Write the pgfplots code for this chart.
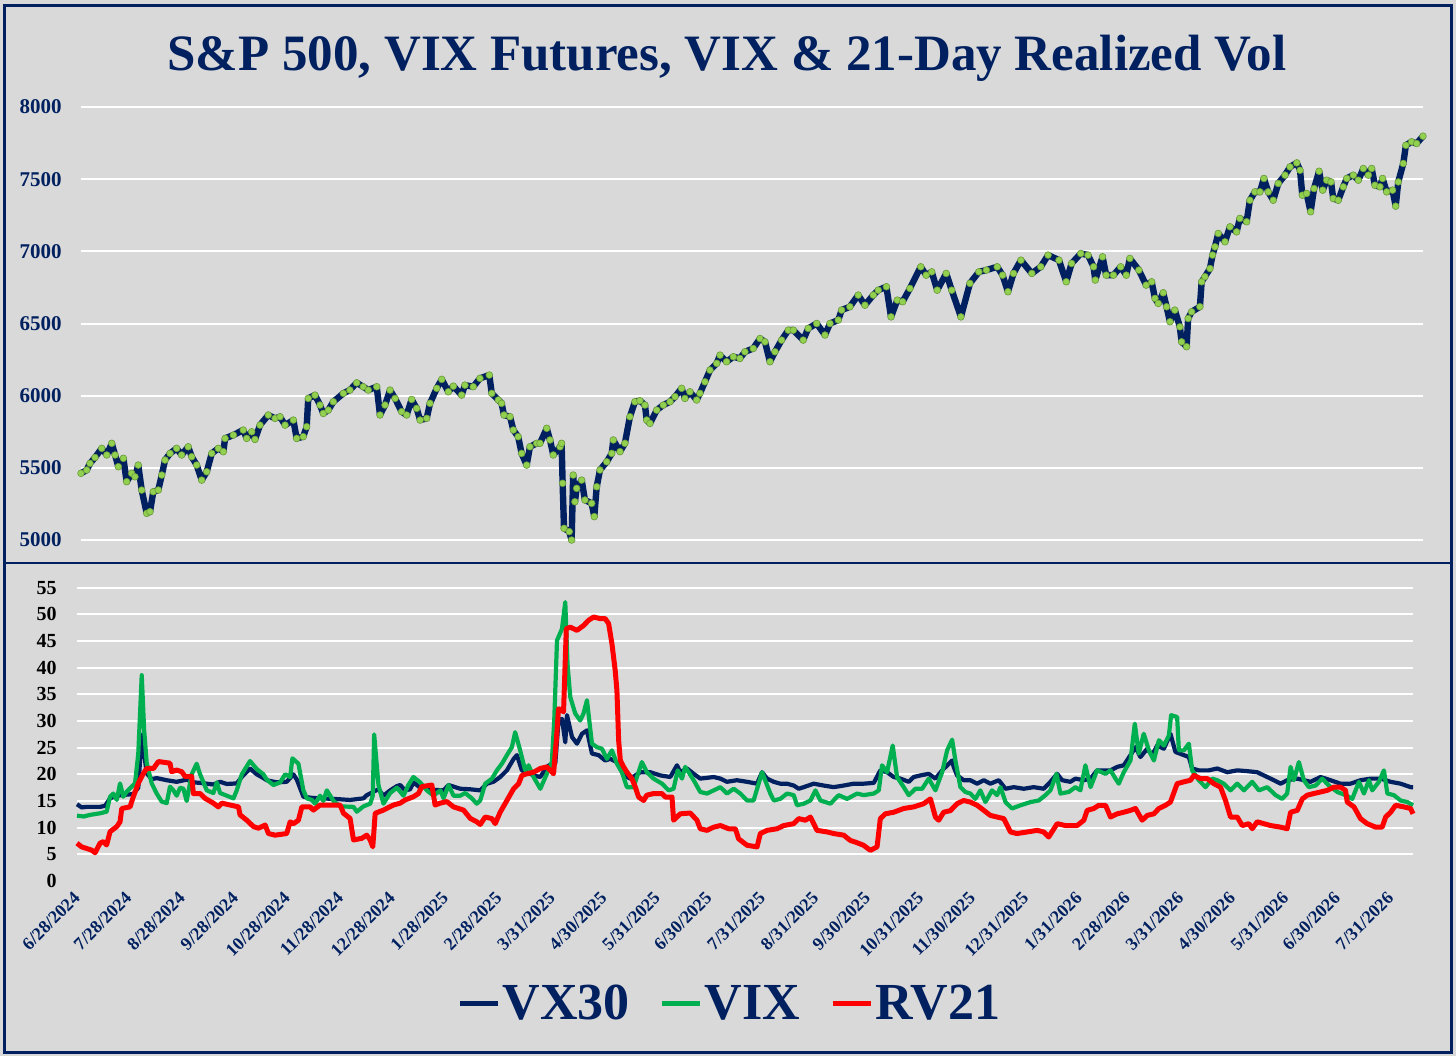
\documentclass[border=0pt]{standalone}
\usepackage{fontspec}
\setmainfont{Liberation Serif}
\usepackage{pgfplots}
\pgfplotsset{compat=1.18}
\definecolor{navy}{HTML}{002060}
\definecolor{vixgreen}{HTML}{00B050}
\definecolor{spgreen}{HTML}{92D050}
\definecolor{rvred}{HTML}{FF0000}
\definecolor{bg}{HTML}{D9D9D9}
\begin{document}
\begin{tikzpicture}
\useasboundingbox (0,0) rectangle (728pt,-528pt);
\fill[bg] (0,0) rectangle (728pt,-528pt);
\draw[navy, line width=1.5pt] (2.25pt,-2.5pt) rectangle (725.5pt,-526pt);
\draw[navy, line width=1pt] (2.25pt,-281.5pt) -- (725.5pt,-281.5pt);
\node[anchor=base, font=\bfseries\fontsize{25.5}{30}\selectfont, text=navy] at (363.5pt,-35pt) {S\&P 500, VIX Futures, VIX \& 21-Day Realized Vol};

\begin{axis}[at={(40.5pt,-270pt)}, anchor=south west, scale only axis,
  width=671pt, height=216.5pt, xmin=0, xmax=776, ymin=5000, ymax=8000,
  ytick={5000,5500,...,8000}, xtick=\empty, ymajorgrids,
  grid style={white, line width=1pt}, axis line style={draw=none},
  tick style={draw=none},
  yticklabel style={font=\bfseries\fontsize{10.5}{12}\selectfont, text=navy, inner sep=0pt, xshift=-9.5pt},
  /pgf/number format/assume math mode=true, /pgf/number format/1000 sep={}, clip=false]
\addplot[navy, line width=3.2pt, line join=round, mark=*, mark size=1.7pt, mark options={fill=spgreen, draw=spgreen!75!black, line width=0.3pt}] coordinates {
(0,5462) (3.3,5485) (5.2,5531) (8.1,5572) (12.0,5635) (14.9,5589) (17.8,5670) (19.7,5589) (21.6,5508) (24.5,5566)
(26.4,5404) (29.3,5462) (31.2,5438) (33.1,5519) (35.1,5346) (38.0,5185) (39.9,5196) (41.8,5335) (44.7,5346) (46.7,5450)
(48.6,5554) (51.5,5600) (55.3,5635) (58.2,5589) (62.0,5646) (64.0,5577) (66.9,5519) (69.8,5415) (72.7,5473) (75.6,5600)
(79.4,5635) (82.3,5612) (83.3,5704) (88.1,5727) (93.8,5762) (95.8,5704) (98.7,5750) (100.6,5697) (103.5,5796) (108.3,5866)
(112.2,5843) (115.1,5854) (118.0,5796) (122.8,5831) (124.7,5704) (128.5,5716) (130.5,5785) (131.4,5981) (135.3,6004) (138.2,5935)
(140.1,5877) (143.0,5900) (145.9,5958) (151.7,6016) (155.5,6039) (159.4,6089) (163.2,6062) (166.1,6039) (171.0,6062) (172.9,5866)
(175.8,5935) (178.7,6039) (181.6,5981) (185.4,5889) (188.3,5866) (191.2,5974) (194.1,5912) (196.1,5831) (199.9,5843) (201.8,5947)
(205.7,6051) (208.6,6113) (212.4,6027) (215.3,6066) (220.1,6004) (222.0,6073) (226.8,6062) (230.7,6120) (236.1,6143) (237.5,6016)
(241.3,5970) (243.2,5947) (244.6,5866) (248.1,5854) (250.0,5762) (252.8,5716) (254.8,5600) (257.7,5519) (259.6,5646) (263.5,5670)
(265.4,5670) (269.3,5774) (271.2,5693) (273.1,5589) (277.0,5646) (277.9,5670) (278.5,5393) (279.3,5081) (282.3,5058) (283.7,5000)
(284.6,5450) (285.6,5265) (286.6,5358) (289.5,5415) (291.4,5277) (295.3,5254) (296.8,5162) (298.2,5369) (300.1,5485) (304.0,5542)
(306.9,5600) (307.8,5693) (311.7,5612) (314.5,5670) (317.4,5854) (320.3,5958) (323.2,5965) (326.1,5935) (327.1,5831) (329.0,5808)
(332.9,5900) (336.7,5935) (340.6,5958) (343.5,5993) (347.3,6051) (349.2,5981) (352.1,6027) (356.0,5970) (357.9,6016) (360.8,6096)
(363.7,6177) (367.6,6224) (369.5,6281) (373.3,6235) (377.2,6270) (381.0,6258) (383.9,6304) (388.7,6327) (392.6,6396) (395.5,6373)
(398.4,6235) (401.3,6304) (405.1,6385) (409.0,6454) (411.9,6454) (417.6,6385) (420.5,6466) (425.4,6500) (430.2,6420) (433.1,6500)
(437.9,6524) (439.8,6593) (444.6,6616) (449.4,6697) (453.3,6627) (458.1,6697) (461.0,6731) (465.7,6755) (468.4,6546) (472.0,6662)
(475.1,6651) (479.3,6743) (485.6,6893) (488.7,6835) (491.9,6858) (495.1,6731) (500.3,6847) (503.5,6731) (508.8,6546) (514.0,6778)
(519.2,6858) (523.5,6870) (529.8,6893) (532.9,6835) (536.0,6720) (539.2,6847) (543.5,6939) (549.8,6847) (555.0,6893) (559.2,6974)
(565.5,6939) (569.7,6789) (572.8,6916) (578.1,6985) (582.3,6974) (585.5,6893) (586.5,6801) (590.7,6962) (592.8,6835) (597.0,6835)
(601.2,6893) (604.4,6835) (606.5,6951) (611.7,6870) (615.9,6766) (619.1,6789) (621.0,6674) (622.9,6639) (625.8,6713) (627.7,6616)
(629.7,6512) (632.5,6593) (635.4,6477) (636.4,6373) (639.3,6339) (640.2,6535) (642.2,6581) (647.0,6616) (648.0,6789) (649.9,6824)
(652.8,6881) (654.3,6974) (655.7,7031) (657.6,7124) (661.5,7066) (664.4,7170) (668.2,7135) (670.1,7228) (674.0,7205) (675.9,7354)
(678.8,7412) (681.7,7412) (684.0,7505) (686.5,7412) (689.4,7354) (692.3,7470) (696.2,7528) (699.1,7585) (703.0,7613) (704.9,7562)
(706.2,7389) (708.7,7401) (711.0,7274) (713.0,7435) (715.9,7555) (718.0,7424) (720.3,7493) (722.8,7481) (724.1,7366) (727.0,7354)
(729.9,7447) (731.9,7505) (735.7,7528) (738.6,7493) (741.5,7574) (744.4,7528) (746.3,7574) (748.2,7458) (751.1,7447) (752.6,7505)
(755.0,7412) (758.4,7424) (760.2,7313) (761.7,7481) (764.6,7609) (766.1,7735) (769.4,7759) (772.3,7747) (776,7798)
};
\end{axis}

\begin{axis}[at={(38.5pt,-440.5pt)}, anchor=south west, scale only axis,
  width=668pt, height=146.67pt, xmin=0, xmax=776, ymin=0, ymax=55,
  ytick={5,10,...,55}, extra y ticks={0}, extra y tick style={grid=none},
  xtick={0,30,61,92,122,153,183,214,245,276,306,337,367,398,429,459,490,520,551,582,610,641,671,702,732,763},
  xticklabels={6/28/2024,7/28/2024,8/28/2024,9/28/2024,10/28/2024,11/28/2024,12/28/2024,1/28/2025,2/28/2025,3/31/2025,4/30/2025,5/31/2025,6/30/2025,7/31/2025,8/31/2025,9/30/2025,10/31/2025,11/30/2025,12/31/2025,1/31/2026,2/28/2026,3/31/2026,4/30/2026,5/31/2026,6/30/2026,7/31/2026},
  ymajorgrids, grid style={white, line width=1pt}, axis line style={draw=none},
  tick style={draw=none},
  yticklabel style={font=\bfseries\fontsize{10}{12}\selectfont, text=black, inner sep=0pt, xshift=-10pt},
  xticklabel style={font=\bfseries\fontsize{9}{10}\selectfont, text=navy, inner sep=0pt, yshift=-7pt, rotate=45, anchor=east},
  /pgf/number format/assume math mode=true, clip=false,
  every axis plot/.append style={line join=round},
  legend columns=3,
  legend style={at={(0.4888,-0.419)}, anchor=center, draw=none, fill=none,
    font=\bfseries\fontsize{26}{30}\selectfont, text=navy, nodes={inner sep=1pt},
    /tikz/every even column/.append style={column sep=14pt}},
  legend image code/.code={\draw[#1, line width=2.5pt] (0pt,0pt) -- (19pt,0pt);}]
\addplot[navy, line width=2.1pt] coordinates {
(0,14.4) (2.7,13.8) (5.6,13.9) (13.4,13.9) (16.3,14.1) (19.2,15.5) (23.1,16.0) (28.9,16.2) (32.7,16.3) (35.6,17.5)
(37.6,27.4) (40.5,20.2) (43.4,19.1) (46.3,19.3) (52.1,18.9) (57.9,18.6) (63.7,19.0) (67.6,18.5) (71.5,18.4) (79.2,18.1)
(83.1,18.6) (87.0,18.2) (92.8,18.3) (95.7,19.5) (100.5,21.1) (104.4,20.0) (108.3,19.3) (110.2,18.9) (116.0,18.5) (121.8,18.6)
(125.7,20.0) (127.7,19.0) (131.5,15.8) (136.4,15.6) (141.2,15.5) (149.0,15.4) (158.6,15.2) (166.4,15.5) (168.3,16.1) (172.6,16.8)
(175.1,17.2) (178.0,16.0) (181.9,17.0) (185.8,17.8) (187.7,18.0) (190.6,17.0) (193.5,17.2) (195.4,18.5) (199.3,17.5) (201.3,17.8)
(207.1,17.1) (212.9,17.0) (215.8,18.0) (222.6,17.3) (228.4,17.2) (234.2,17.0) (238.1,18.25) (241.9,18.6) (245.8,19.5) (249.7,20.75)
(253.6,22.9) (255.5,23.6) (258.4,20.75) (261.3,20.4) (265.2,19.8) (269.1,19.5) (272.9,21.4) (275.8,22.0) (277.8,22.0) (279.7,30.1)
(281.7,30.4) (283.6,26.0) (284.6,31.1) (287.5,27.0) (290.4,25.75) (293.3,27.6) (296.2,28.25) (299.1,23.9) (303.0,23.6) (306.8,22.6)
(309.7,22.9) (313.6,22.3) (317.5,19.8) (321.4,19.2) (327.2,20.4) (333.0,20.4) (338.8,19.8) (344.6,19.5) (348.5,21.7) (350.4,20.4)
(354.3,21.1) (358.2,20.1) (362.0,19.2) (369.8,19.5) (373.7,19.2) (377.5,18.6) (383.3,18.9) (389.2,18.6) (395.0,18.25) (397.9,20.4)
(400.8,19.2) (404.7,18.6) (408.5,18.25) (412.4,18.25) (416.3,17.9) (419.2,17.3) (422.1,17.6) (427.9,18.25) (433.7,17.9) (439.5,17.6)
(445.3,17.9) (451.1,18.25) (456.9,18.25) (462.8,18.4) (466.6,20.75) (470.5,20.4) (474.4,19.5) (478.3,19.2) (483.1,18.6) (486.0,19.5)
(489.9,19.8) (494.7,20.1) (498.6,19.2) (502.5,20.75) (508.3,22.6) (509.2,21.4) (511.2,19.8) (515.0,18.9) (518.9,18.9) (522.8,18.25)
(526.7,18.9) (530.5,18.25) (535.4,18.9) (539.3,17.3) (544.1,17.6) (549.9,17.3) (555.7,17.6) (561.5,17.3) (565.4,18.6) (569.3,20.1)
(572.2,18.9) (577.0,18.6) (579.9,19.2) (584.8,18.9) (588.7,19.2) (592.5,20.75) (596.4,20.75) (600.3,20.75) (604.2,21.4) (608.0,21.7)
(611.9,23.6) (614.8,25.1) (617.7,23.25) (621.6,24.8) (624.5,23.6) (627.4,25.4) (631.3,24.8) (635.1,27.6) (638.0,24.2) (642.9,23.6)
(645.8,23.25) (647.7,21.1) (651.6,20.75) (657.4,20.75) (662.3,21.1) (668.1,20.4) (673.9,20.75) (679.7,20.6) (685.5,20.4) (691.3,19.5)
(695.2,18.9) (699.1,18.25) (702.9,18.9) (708.8,19.2) (712.6,18.9) (716.5,18.6) (722.3,19.5) (728.1,18.9) (733.9,18.25) (739.7,18.25)
(745.5,18.9) (751.4,19.2) (757.2,19.2) (763.0,18.6) (768.8,18.25) (774.6,17.6) (776,17.6)
};
\addlegendentry{VX30}
\addplot[vixgreen, line width=2.1pt] coordinates {
(0,12.25) (3.9,12.1) (7.6,12.4) (13.4,12.7) (17.2,13.0) (19.2,15.8) (21.1,16.4) (23.1,15.2) (25.0,18.3) (26.9,15.8)
(28.9,16.75) (31.8,17.7) (33.7,18.3) (35.6,23.9) (37.6,38.6) (39.0,28.3) (40.5,22.1) (43.4,18.3) (46.3,16.4) (49.2,14.9)
(52.1,14.6) (54.0,17.7) (56.0,17.0) (57.9,16.0) (59.9,17.5) (61.8,17.3) (63.7,15.0) (66.6,20.0) (69.5,22.0) (71.5,20.0)
(75.4,17.0) (79.2,16.5) (81.2,18.5) (83.1,16.5) (87.0,16.0) (90.9,15.5) (92.8,17.0) (95.7,20.0) (100.5,22.5) (104.4,21.0)
(108.3,20.0) (110.2,19.0) (114.1,18.0) (118.0,18.5) (120.9,20.0) (123.8,19.5) (125.1,23.0) (128.6,22.0) (131.5,17.0) (133.5,15.5)
(136.4,15.2) (138.3,14.5) (141.2,16.0) (143.1,15.0) (145.1,17.0) (149.0,15.0) (152.8,14.0) (160.6,13.9) (162.5,13.0) (166.4,14.0)
(170.3,14.5) (171.8,16.0) (172.6,27.5) (175.1,18.0) (178.0,14.5) (181.9,16.5) (185.8,17.5) (189.6,16.0) (192.5,18.0) (195.4,19.5)
(199.3,18.5) (203.2,17.0) (207.1,16.0) (211.0,17.0) (212.9,15.5) (215.8,18.0) (218.7,16.0) (222.6,16.0) (225.5,16.5) (229.3,15.5)
(232.2,14.5) (234.2,15.1) (237.1,18.25) (241.0,19.2) (243.9,20.75) (246.8,22.0) (249.7,23.6) (252.6,25.1) (254.5,27.9) (257.4,24.5)
(260.3,20.75) (262.3,21.7) (265.2,19.5) (269.1,17.3) (272.9,20.1) (275.8,22.3) (277.2,30.1) (278.8,45.1) (281.7,47.3) (283.6,52.3)
(284.9,40.75) (286.5,34.5) (289.4,31.4) (292.3,30.1) (294.2,31.4) (296.2,33.9) (299.1,25.75) (302.0,25.1) (304.9,24.8) (307.8,22.9)
(310.7,24.5) (313.6,22.0) (316.5,20.4) (319.4,17.6) (323.3,17.6) (325.2,19.5) (328.1,22.3) (331.0,20.4) (334.9,19.2) (339.8,18.25)
(343.6,17.0) (346.5,17.3) (348.9,20.75) (351.4,19.2) (353.3,21.4) (358.2,18.9) (362.0,16.7) (365.9,16.4) (369.8,17.0) (373.7,17.6)
(377.5,16.4) (381.4,17.3) (385.3,16.4) (389.2,15.1) (393.0,15.1) (397.9,20.4) (402.7,16.4) (404.7,15.1) (408.5,15.4) (412.4,16.4)
(416.3,16.1) (418.2,14.2) (422.1,14.5) (426.0,15.1) (428.9,17.0) (431.8,15.1) (437.6,14.5) (442.4,16.1) (447.3,15.4) (453.1,16.4)
(456.9,16.1) (462.8,16.4) (465.7,17.0) (467.6,21.7) (470.5,20.4) (473.8,25.4) (476.3,19.5) (480.2,17.6) (483.1,16.1) (487.0,17.3)
(490.9,17.3) (494.7,19.2) (498.6,17.0) (502.5,20.4) (505.4,24.5) (508.3,26.5) (510.2,22.6) (513.1,17.6) (516.0,16.7) (518.9,16.4)
(521.8,15.4) (524.7,17.0) (527.6,14.8) (531.5,17.0) (534.4,16.1) (536.4,17.6) (539.3,14.8) (543.1,13.6) (548.0,14.2) (553.8,14.8)
(558.6,15.1) (562.5,16.1) (565.4,17.0) (568.9,20.1) (571.2,16.4) (576.1,16.7) (579.9,17.6) (582.8,17.0) (585.7,21.7) (588.7,17.6)
(592.5,20.75) (597.4,20.1) (600.3,20.75) (603.2,19.2) (605.1,18.25) (608.0,20.4) (611.9,22.6) (614.4,29.5) (616.7,23.9) (619.6,27.6)
(622.6,24.5) (625.5,22.6) (628.4,26.4) (631.3,25.4) (634.2,27.3) (635.5,31.1) (639.0,30.75) (640.0,24.5) (642.9,24.5) (645.8,25.75)
(647.7,20.75) (651.6,18.9) (655.5,17.6) (659.4,19.2) (662.3,18.9) (666.1,18.25) (670.0,17.0) (673.9,18.25) (677.8,17.0) (682.6,18.6)
(686.5,17.0) (691.3,17.6) (696.2,16.1) (700.0,15.4) (702.9,16.4) (704.9,21.4) (706.8,18.9) (709.7,22.3) (712.6,18.9) (715.5,17.6)
(719.4,17.9) (723.3,19.2) (727.1,17.9) (732.0,16.7) (736.8,16.1) (740.7,15.4) (744.6,18.6) (747.5,16.4) (750.4,18.9) (752.3,17.0)
(756.2,18.6) (759.1,20.75) (761.1,16.4) (764.9,16.1) (768.8,15.1) (772.7,14.8) (776,14.2)
};
\addlegendentry{VIX}
\addplot[rvred, line width=2.5pt] coordinates {
(0,7.1) (2.7,6.4) (5.6,6.1) (8.5,5.8) (10.5,5.3) (13.4,7.1) (15.3,7.4) (17.2,6.75) (19.2,9.25) (23.1,10.2)
(25.0,11.1) (26.0,13.6) (30.8,13.9) (32.7,15.8) (35.6,18.3) (38.6,20.2) (40.5,21.1) (44.4,21.1) (47.3,22.4) (54.0,22.1)
(55.0,20.5) (57.9,20.8) (60.8,20.5) (62.8,19.6) (66.6,19.6) (67.6,16.4) (71.5,16.4) (74.4,15.5) (79.2,14.6) (82.1,13.9)
(84.1,14.6) (88.9,14.25) (93.8,13.9) (94.7,12.4) (98.6,11.4) (102.5,10.2) (105.4,9.9) (109.3,10.5) (111.2,8.9) (115.1,8.6)
(121.8,8.9) (123.8,11.1) (125.7,10.75) (128.6,11.4) (130.6,13.9) (135.4,13.9) (137.3,13.3) (141.2,14.25) (152.8,14.25) (154.8,12.7)
(158.6,11.75) (160.6,7.7) (165.4,8.0) (168.3,8.6) (170.3,7.7) (171.8,6.4) (173.2,12.7) (178.0,13.3) (183.8,14.25) (187.7,14.6)
(190.6,15.2) (195.4,15.8) (198.3,16.4) (200.3,17.7) (206.1,18.0) (208.0,14.25) (211.0,14.6) (214.8,14.9) (218.7,13.9) (224.5,13.3)
(228.4,11.75) (232.2,11.1) (234.2,10.6) (237.1,12.0) (241.0,11.7) (242.9,10.75) (245.8,12.9) (249.7,15.1) (253.6,17.3) (256.5,18.25)
(258.4,19.8) (261.3,20.1) (265.2,20.4) (269.1,21.1) (272.9,21.4) (274.9,20.75) (276.8,20.1) (278.4,26.4) (279.7,32.3) (281.7,32.0)
(282.6,31.7) (284.2,47.3) (286.5,47.6) (290.4,47.0) (294.2,47.9) (297.2,48.9) (300.1,49.5) (303.9,49.2) (306.8,49.2) (308.8,48.25)
(310.7,44.5) (312.6,39.5) (313.6,35.75) (314.6,26.4) (315.6,22.6) (317.5,21.4) (319.4,20.4) (322.3,19.2) (324.3,17.6) (326.2,15.75)
(329.1,15.1) (331.0,16.1) (334.9,16.4) (339.8,16.4) (341.7,15.75) (345.6,15.75) (346.5,11.4) (350.4,12.6) (356.2,12.75) (360.1,11.4)
(362.0,9.8) (365.9,9.5) (369.8,10.1) (373.7,10.4) (378.5,9.8) (382.4,9.8) (384.3,7.9) (389.2,6.7) (395.0,6.4) (396.9,8.9)
(400.8,9.5) (406.6,9.8) (410.5,10.4) (416.3,10.75) (419.2,11.7) (423.1,11.4) (426.0,12.0) (429.8,9.5) (435.7,9.2) (439.5,8.9)
(445.3,8.6) (449.2,7.6) (452.1,7.3) (456.9,6.7) (460.8,5.75) (464.7,6.4) (466.6,11.7) (469.5,12.6) (474.4,12.9) (480.2,13.6)
(486.0,13.9) (491.8,14.5) (495.7,15.4) (498.6,12.0) (500.5,11.4) (503.4,12.9) (507.3,13.2) (511.2,14.5) (515.0,15.1) (518.9,14.8)
(522.8,14.2) (526.7,13.25) (530.5,12.3) (534.4,12.0) (538.3,11.7) (542.2,9.2) (546.0,8.9) (551.9,9.2) (557.7,9.5) (561.5,9.2)
(564.4,8.25) (569.3,10.75) (574.1,10.4) (580.9,10.4) (584.8,11.4) (586.7,13.25) (590.6,13.6) (593.5,14.2) (597.4,14.2) (600.3,12.0)
(604.2,12.6) (608.0,12.9) (611.9,13.25) (614.8,13.6) (618.7,11.4) (621.6,12.3) (625.5,12.6) (628.4,13.6) (632.2,14.2) (635.1,14.8)
(639.0,18.25) (642.9,18.6) (646.8,18.9) (648.7,19.8) (652.6,19.2) (656.5,19.2) (660.3,18.25) (664.2,17.6) (667.1,15.1) (670.0,12.0)
(673.9,12.0) (676.8,10.4) (680.7,10.75) (682.6,9.8) (685.5,11.1) (689.4,10.75) (693.3,10.4) (699.1,10.1) (702.9,9.8) (704.9,12.9)
(708.8,13.25) (711.7,15.4) (714.6,16.1) (718.4,16.4) (722.3,16.7) (726.2,17.0) (730.1,17.6) (733.9,17.6) (736.8,17.0) (737.8,14.8)
(741.7,13.9) (745.5,11.7) (749.4,10.75) (754.3,10.1) (758.1,10.1) (760.1,12.0) (763.0,12.9) (765.9,14.2) (770.7,13.9) (774.6,13.6)
(776,12.6)
};
\addlegendentry{RV21}
\end{axis}
\end{tikzpicture}
\end{document}
